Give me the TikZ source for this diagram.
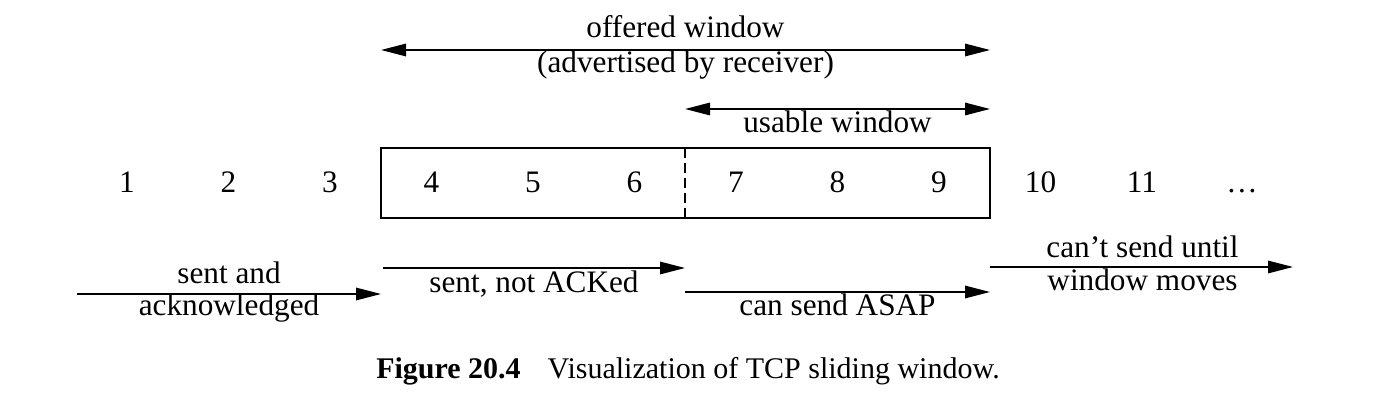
\documentclass[tikz,border=0pt]{standalone}
\usepackage{fontspec}
\setmainfont{Liberation Serif}
\usetikzlibrary{arrows.meta,positioning}

\begin{document}
\begin{tikzpicture}[x=0.4pt,y=-0.4pt,
    font=\fontsize{12.5}{15}\selectfont,
    lbl/.style={anchor=base, inner sep=0pt},
    oneway/.style={-{Triangle[length=10pt,width=5pt]}, line width=0.6pt},
    twoway/.style={{Triangle[length=10pt,width=5pt]}-{Triangle[length=10pt,width=5pt]}, line width=0.6pt}]
\useasboundingbox (0,0) rectangle (1378,406);

% sequence numbers
\foreach \i in {1,...,11}
  \node[lbl] (n\i) at ({127+101.5*(\i-1)},192) {\i};
\node[lbl] (dots) at (1242,192) {\dots};

% window box, cut between sent and not yet sent
\coordinate (boxtl) at (381,148);
\coordinate (boxbr) at (990,218);
\coordinate (cuttop) at (685,148);
\coordinate (cutbot) at (685,218);
\draw[line width=0.6pt] (boxtl) rectangle (boxbr);
\draw[line width=0.6pt, dash pattern=on 4pt off 2pt] (cuttop) -- (cutbot);

% offered window
\coordinate (offl) at (381,50);
\coordinate (offr) at (990,50);
\draw[twoway] (offl) -- (offr);
\node[lbl] (offtxt) at (685.5,38) {offered window};
\node[lbl] (advtxt) at (685.5,73) {(advertised by receiver)};

% usable window
\coordinate (usel) at (685,109);
\coordinate (user) at (990,109);
\draw[twoway] (usel) -- (user);
\node[lbl] (usetxt) at (837.5,132) {usable window};

% categories below the numbers
\coordinate (ackl) at (77,294);
\coordinate (ackr) at (381,294);
\draw[oneway] (ackl) -- (ackr);
\node[lbl] (acktxt) at (229,283) {sent and};
\node[lbl] (acktxt2) at (229,315) {acknowledged};

\coordinate (sntl) at (383,268);
\coordinate (sntr) at (685,268);
\draw[oneway] (sntl) -- (sntr);
\node[lbl] (snttxt) at (534,292) {sent, not ACKed};

\coordinate (asapl) at (685,292);
\coordinate (asapr) at (990,292);
\draw[oneway] (asapl) -- (asapr);
\node[lbl] (asaptxt) at (837.5,315) {can send ASAP};

\coordinate (waitl) at (990,267);
\coordinate (waitr) at (1293,267);
\draw[oneway] (waitl) -- (waitr);
\node[lbl] (waittxt) at (1142.5,257) {can’t send until};
\node[lbl] (waittxt2) at (1142.5,290) {window moves};

% caption
\node[lbl, font=\fontsize{12}{14}\selectfont] (cap) at (688,378)
  {\textbf{Figure 20.4}\hspace{0.9em}Visualization of TCP sliding window.};

\end{tikzpicture}
\end{document}
